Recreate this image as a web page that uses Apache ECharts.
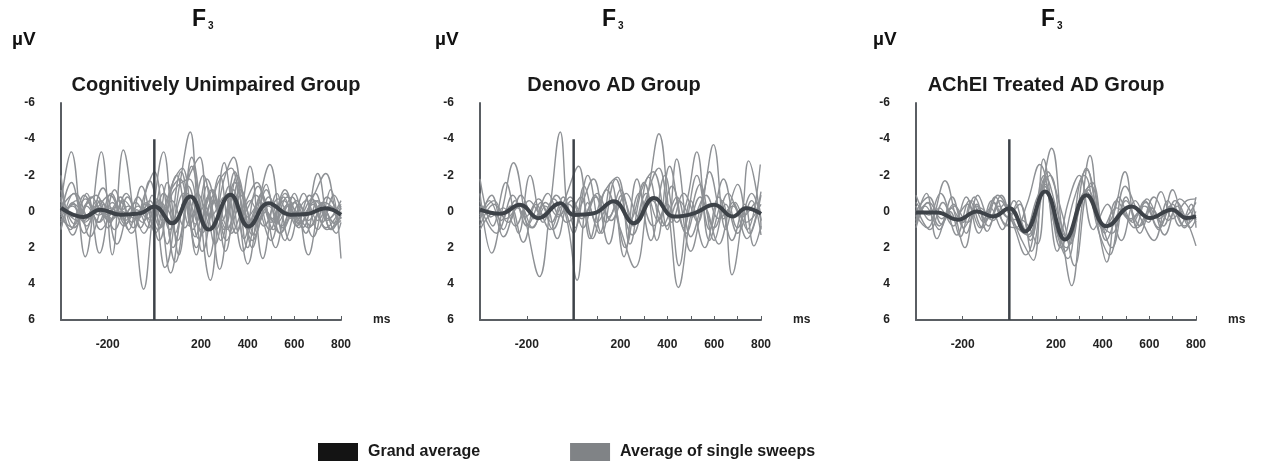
<!DOCTYPE html>
<html>
<head>
<meta charset="utf-8">
<script src="https://cdn.jsdelivr.net/npm/echarts@6/dist/echarts.min.js"></script>
<style>
  html, body { margin: 0; padding: 0; background: #fff; }
  #main { width: 1272px; height: 468px; }
</style>
</head>
<body>
<div id="main"></div>
<script>
// panel titles
var groupNames = ['Cognitively Unimpaired Group', 'Denovo AD Group', 'AChEI Treated AD Group'];
var xTickLabels = [-200, 200, 400, 600, 800];
var xTickMarks = [-200, 0, 100, 200, 300, 400, 500, 600, 700, 800];
var stimulusLine = [[0, -4], [0, 6]];

// grand averages, [ms, µV] (negative up)
var grandCU = [[-400,-0.2],[-303,0.3],[-231,-0.1],[-146,0.18],[-60,0.1],[0,-0.28],[76,0.65],[154,-0.83],[233,1.0],[326,-0.92],[404,0.83],[490,-0.46],[583,0.18],[654,0.14],[733,-0.18],[800,0.18]];
var grandDN = [[-400,-0.1],[-314,0.13],[-229,-0.37],[-150,0.37],[-57,-0.46],[0,0.19],[86,0.1],[171,-0.56],[257,0.65],[343,-0.74],[429,0.28],[514,0.1],[600,-0.37],[679,0.28],[736,-0.18],[800,0.13]];
var grandAT = [[-400,0.05],[-311,0.05],[-219,0.45],[-140,0.0],[-69,0.27],[0,-0.18],[67,1.1],[153,-1.1],[239,1.55],[331,-0.9],[417,0.82],[524,-0.27],[603,0.36],[696,-0.1],[760,0.36],[800,0.27]];

// single sweep averages, Cognitively Unimpaired
var sweepsCU = [
  [[-400,-0.5],[-356,-3.3],[-296,2.5],[-227,-3.3],[-180,2.4],[-133,-3.4],[-85,0.6],[-46,4.3],[-5,0.0],[40,-3.3],[90,1.2],[140,-1.0],[190,1.5],[250,-0.6],[310,1.0],[370,-1.2],[430,1.3],[490,-0.8],[550,0.9],[610,-0.6],[670,0.8],[730,-0.5],[800,0.4]],
  [[-400,-2.0],[-350,0.9],[-290,-1.0],[-235,2.3],[-170,-1.2],[-110,1.0],[-55,-1.4],[5,1.2],[55,-1.6],[105,2.4],[160,-3.0],[240,3.8],[300,-2.7],[355,1.0],[410,-2.5],[465,2.6],[525,-1.0],[580,1.6],[640,-1.0],[700,1.0],[755,-1.2],[800,2.6]],
  [[-400,1.0],[-345,-1.0],[-290,0.8],[-230,-0.6],[-170,1.0],[-115,-0.8],[-60,0.9],[-10,-0.9],[45,3.1],[110,-1.6],[154,-4.4],[200,0.5],[250,-1.2],[305,2.2],[360,-1.6],[420,2.0],[480,-1.5],[530,0.6],[590,-0.8],[650,1.2],[700,-0.6],[760,1.0],[800,0.0]],
  [[-400,0.0],[-360,1.0],[-300,-0.9],[-240,0.6],[-185,-1.0],[-125,0.7],[-70,-0.8],[-15,0.8],[30,-1.5],[80,2.0],[140,-1.6],[195,-3.0],[235,2.5],[295,-1.6],[340,-3.0],[400,2.0],[460,-1.0],[510,1.0],[570,-0.8],[630,0.6],[690,-1.0],[740,0.5],[800,-0.6]],
  [[-400,-1.2],[-340,0.7],[-285,-0.5],[-230,1.0],[-160,-0.3],[-100,1.2],[-40,-1.0],[0,-2.2],[55,1.8],[115,-2.2],[175,1.4],[225,-1.4],[280,3.2],[340,-1.2],[400,2.9],[450,-0.6],[495,-2.6],[560,1.6],[620,-0.4],[680,1.4],[740,-0.8],[800,0.4]],
  [[-400,0.6],[-335,-0.6],[-275,1.4],[-215,-0.4],[-160,1.8],[-100,-0.2],[-45,1.2],[10,-0.7],[70,3.4],[130,-0.6],[180,2.0],[245,-1.2],[300,1.0],[355,-2.0],[420,1.3],[480,-1.2],[540,1.2],[600,-1.0],[660,2.4],[720,-0.5],[780,1.2],[800,0.6]],
  [[-400,-0.8],[-350,1.3],[-300,-0.2],[-250,-0.9],[-190,0.6],[-130,-0.6],[-70,0.4],[-20,-1.7],[35,0.5],[85,-1.2],[150,-1.8],[205,2.2],[270,-1.5],[330,-2.4],[385,1.5],[445,-1.4],[505,0.4],[560,-1.0],[620,0.7],[680,-0.8],[735,-2.1],[790,0.5],[800,0.3]],
  [[-400,0.3],[-345,-0.4],[-290,0.2],[-250,-0.3],[-195,0.5],[-140,0.0],[-80,0.4],[-25,-0.4],[25,0.9],[75,-0.6],[130,0.9],[185,-1.0],[240,0.3],[300,-0.8],[350,1.2],[410,-0.6],[470,0.8],[530,-0.7],[590,0.4],[650,-0.6],[700,0.5],[750,-0.3],[800,0.2]],
  [[-400,0.2],[-355,-1.6],[-300,0.5],[-245,-0.6],[-200,0.9],[-145,-0.8],[-90,0.9],[-35,-0.5],[20,1.6],[70,-1.3],[120,-2.4],[180,2.4],[230,-0.8],[285,1.6],[345,-2.2],[400,1.0],[460,-0.9],[520,2.0],[575,-0.3],[635,0.9],[700,-2.1],[755,1.0],[800,-0.3]],
  [[-400,-0.4],[-330,0.5],[-270,-0.8],[-210,0.3],[-150,-0.6],[-95,0.6],[-40,-0.4],[15,1.0],[60,-0.9],[110,-1.8],[165,1.0],[215,-0.3],[260,1.8],[320,-1.0],[375,0.2],[435,-0.9],[495,1.0],[555,-0.6],[615,0.4],[675,-0.7],[735,0.9],[800,-0.2]],
  [[-400,0.9],[-350,-0.5],[-300,1.2],[-240,-0.2],[-180,0.4],[-120,-1.0],[-65,0.3],[-20,-0.6],[30,0.8],[95,-2.0],[150,0.8],[210,-2.0],[265,1.0],[320,-1.4],[380,2.2],[440,-0.2],[500,1.6],[555,-0.8],[610,0.8],[665,-0.9],[720,0.6],[770,-0.9],[800,-0.1]],
  [[-400,-0.2],[-340,-1.0],[-280,0.4],[-220,-1.3],[-165,0.2],[-110,-0.3],[-50,0.6],[-5,-0.3],[50,-0.2],[100,1.6],[160,-2.5],[220,1.0],[280,-2.0],[330,1.2],[390,-0.5],[440,-1.6],[500,0.6],[560,-1.2],[620,0.9],[680,-0.4],[740,1.0],[800,0.5]],
  [[-400,0.4],[-345,0.9],[-290,-0.3],[-235,0.6],[-180,-0.5],[-125,0.5],[-70,-0.3],[-15,0.5],[40,-1.0],[95,0.5],[145,-1.4],[205,1.2],[265,-0.6],[315,0.9],[370,-0.9],[430,0.7],[490,-0.3],[545,0.8],[600,-0.5],[660,0.5],[715,-0.4],[770,0.6],[800,0.3]],
  [[-400,-0.6],[-350,0.3],[-295,-0.7],[-240,0.2],[-185,-0.2],[-130,0.8],[-75,-0.1],[-25,0.9],[30,-0.5],[90,2.8],[150,-0.5],[200,1.0],[255,-0.9],[310,1.6],[365,-0.2],[420,1.6],[480,0.0],[540,1.2],[600,0.1],[660,0.9],[720,-0.2],[775,0.7],[800,0.2]],
  [[-400,0.1],[-350,-0.3],[-300,0.6],[-245,-0.2],[-190,-0.9],[-135,0.3],[-80,-0.5],[-30,0.4],[20,-0.6],[65,1.0],[125,-1.0],[175,0.7],[225,-1.8],[290,0.5],[345,-1.6],[400,0.3],[455,-0.5],[515,0.6],[575,-0.4],[630,0.2],[690,-0.6],[745,0.4],[800,-0.4]]
];

// single sweep averages, Denovo AD
var sweepsDN = [
  [[-400,-1.0],[-350,2.3],[-300,-0.4],[-257,-2.7],[-200,0.8],[-146,3.6],[-100,-0.3],[-57,-4.4],[-15,0.2],[30,-0.8],[80,1.5],[140,-1.2],[200,1.0],[261,3.1],[320,-1.2],[364,-4.3],[410,0.5],[447,4.2],[500,0.2],[540,-1.5],[600,1.6],[650,-0.4],[700,1.2],[760,-0.6],[800,1.3]],
  [[-400,-1.8],[-345,0.8],[-290,-1.6],[-235,1.2],[-186,-2.0],[-130,0.6],[-75,-0.9],[-30,0.4],[15,3.8],[60,-0.5],[110,1.2],[160,-1.6],[215,2.5],[270,-1.8],[330,1.6],[390,-2.0],[440,0.6],[480,-0.4],[526,-3.3],[580,1.6],[635,-0.6],[676,3.5],[720,0.2],[747,-2.8],[800,0.5]],
  [[-400,0.5],[-350,-0.9],[-300,1.0],[-250,-0.6],[-200,0.8],[-140,-0.5],[-90,1.0],[-40,-0.6],[21,-2.5],[70,1.5],[120,-0.8],[186,-1.9],[240,1.8],[290,-1.2],[340,-2.2],[400,1.0],[440,-2.9],[500,1.4],[555,-1.0],[597,-3.7],[650,1.0],[690,-0.5],[740,1.0],[797,-2.6]],
  [[-400,0.8],[-340,-0.4],[-280,0.6],[-225,-0.9],[-170,0.4],[-110,-1.0],[-60,0.2],[-10,-0.6],[40,0.9],[95,-0.8],[150,0.3],[200,-1.2],[255,0.8],[310,-1.0],[360,0.5],[420,-1.4],[480,1.2],[540,-0.8],[600,0.9],[660,-1.0],[720,0.3],[780,-0.5],[800,1.0]],
  [[-400,-0.3],[-330,1.2],[-270,-0.3],[-215,1.7],[-160,-0.4],[-100,1.0],[-50,-0.3],[0,1.2],[45,-1.4],[100,0.6],[160,-0.6],[220,2.0],[280,-1.0],[340,0.8],[400,-0.4],[450,3.0],[500,-0.6],[560,2.0],[620,-0.8],[676,1.6],[730,-0.4],[770,1.9],[800,0.8]],
  [[-400,0.2],[-360,-0.6],[-310,0.5],[-260,-0.9],[-205,0.3],[-150,-0.7],[-95,0.6],[-45,-0.8],[5,0.9],[60,-2.0],[120,1.2],[180,-1.8],[240,0.5],[300,-1.6],[355,1.6],[410,-2.5],[470,0.9],[526,-2.0],[580,1.0],[640,-1.8],[700,0.9],[760,-1.0],[800,0.5]],
  [[-400,1.0],[-345,0.1],[-300,1.4],[-240,-0.2],[-180,0.9],[-120,-0.3],[-70,1.5],[-20,-0.4],[35,0.4],[90,-0.9],[150,1.8],[205,-0.9],[261,0.7],[320,-1.9],[380,0.8],[440,-0.8],[500,2.2],[560,-0.2],[620,1.8],[680,-0.5],[740,1.5],[800,-0.9]],
  [[-400,-0.6],[-355,0.3],[-300,-0.2],[-250,0.8],[-190,-0.6],[-135,0.2],[-85,-0.7],[-30,0.6],[25,-0.2],[85,-1.8],[140,0.6],[190,-0.4],[250,1.3],[300,-0.4],[364,-2.4],[420,0.6],[470,-1.0],[530,0.6],[580,-2.2],[640,0.4],[700,-1.5],[750,1.2],[800,-1.1]],
  [[-400,0.3],[-340,-0.6],[-290,0.4],[-230,-0.3],[-175,0.9],[-120,-0.5],[-65,0.3],[-15,-0.8],[40,0.2],[100,-1.0],[160,0.5],[225,-1.0],[280,0.3],[335,-0.6],[395,0.8],[450,-0.6],[505,0.3],[565,-0.9],[620,0.4],[680,-0.3],[735,0.6],[800,-0.4]]
];

// single sweep averages, AChEI treated AD
var sweepsAT = [
  [[-400,-0.9],[-340,0.5],[-276,-1.7],[-230,0.3],[-190,2.0],[-140,-0.3],[-90,0.8],[-40,-0.6],[10,0.5],[70,2.4],[130,-0.6],[181,-3.5],[230,1.6],[267,4.1],[310,-0.2],[346,-3.1],[400,1.0],[445,0.2],[496,-2.2],[550,0.9],[610,-0.2],[660,0.8],[710,-0.6],[760,0.5],[800,1.9]],
  [[-400,0.5],[-355,-1.0],[-310,1.5],[-250,-0.2],[-200,0.6],[-150,-0.8],[-100,0.5],[-50,-0.9],[0,0.0],[50,1.5],[103,2.7],[146,-2.9],[200,1.0],[250,2.6],[300,-1.5],[330,-2.3],[390,1.5],[417,2.8],[470,-0.8],[530,0.6],[580,-0.6],[640,0.9],[700,-0.4],[750,0.8],[800,0.2]],
  [[-400,0.0],[-345,-0.8],[-290,0.7],[-240,-0.4],[-185,1.2],[-135,-0.9],[-85,0.4],[-35,-0.9],[15,0.6],[80,1.3],[150,-2.0],[215,0.4],[260,1.8],[330,-2.4],[390,0.6],[440,1.2],[500,-0.6],[560,0.8],[620,-0.8],[680,0.5],[730,-0.7],[800,0.6]],
  [[-400,0.7],[-360,-0.3],[-300,1.0],[-245,-0.8],[-195,0.9],[-140,-0.4],[-95,1.1],[-45,-0.3],[0,0.4],[60,0.5],[120,1.8],[165,-2.2],[230,0.3],[280,3.0],[340,-1.2],[380,0.0],[440,2.0],[500,-0.8],[560,1.2],[610,-0.2],[665,1.3],[720,-0.3],[775,0.9],[800,0.4]],
  [[-400,-0.3],[-340,1.0],[-285,-0.5],[-225,1.3],[-170,-0.6],[-115,0.9],[-65,-0.5],[-15,0.8],[40,-0.6],[90,1.6],[150,-1.8],[205,2.2],[250,-0.4],[300,-2.0],[360,1.0],[420,-0.4],[480,1.6],[540,-0.6],[595,0.6],[650,-1.1],[700,0.4],[760,-0.6],[800,-0.7]],
  [[-400,0.9],[-350,-0.5],[-300,0.8],[-255,0.0],[-210,1.4],[-160,-0.6],[-110,0.6],[-60,-0.8],[-10,0.3],[45,-0.4],[95,2.2],[155,-1.5],[220,2.0],[275,-0.6],[320,-2.0],[380,1.0],[430,2.4],[496,-1.4],[560,0.3],[620,1.6],[680,-0.6],[730,0.8],[780,-0.4],[800,0.9]],
  [[-400,-0.5],[-345,0.2],[-295,-1.0],[-235,0.4],[-180,-0.4],[-125,0.9],[-75,-0.6],[-25,0.6],[25,0.9],[75,-0.4],[130,-2.6],[195,0.8],[245,2.0],[300,-0.3],[355,-1.6],[415,1.6],[480,0.0],[535,0.9],[590,-0.7],[650,0.6],[700,-1.2],[750,0.3],[800,-0.5]],
  [[-400,0.2],[-350,0.9],[-300,-0.2],[-240,0.8],[-185,-0.8],[-130,1.2],[-80,-0.2],[-30,1.0],[20,-0.6],[70,1.0],[120,-0.8],[175,-2.0],[240,2.2],[300,-0.6],[350,-1.4],[410,1.2],[460,-0.6],[520,0.4],[580,-0.3],[640,1.0],[690,-0.3],[750,0.9],[800,-0.8]],
  [[-400,0.3],[-345,-0.5],[-290,0.4],[-235,-0.3],[-180,0.6],[-125,-0.2],[-70,0.5],[-20,-0.4],[35,0.3],[85,1.4],[150,-1.4],[215,0.9],[255,1.5],[330,-1.1],[400,0.9],[460,-0.2],[520,0.5],[585,-0.5],[640,0.4],[700,-0.2],[760,0.5],[800,0.0]]
];

var chart = echarts.init(document.getElementById('main'));

var font = '"Liberation Sans", Arial, sans-serif';
var sweepColor = '#8e9195';
var darkColor = '#3d4248';

// grid layout for the three panels
var panels = [
  { left: 61, width: 280, fCenter: 200, uvLeft: 12, titleCenter: 216 },
  { left: 480, width: 281, fCenter: 610, uvLeft: 435, titleCenter: 614 },
  { left: 916, width: 280, fCenter: 1049, uvLeft: 873, titleCenter: 1046 }
];
var allSweeps = [sweepsCU, sweepsDN, sweepsAT];
var allGrand = [grandCU, grandDN, grandAT];

var grids = [], xAxes = [], yAxes = [], series = [], graphics = [];

panels.forEach(function (p, i) {
  grids.push({ left: p.left, width: p.width, top: 103, height: 217 });
  xAxes.push({
    type: 'value', gridIndex: i, min: -400, max: 800, interval: 100,
    name: 'ms', nameLocation: 'end', nameGap: 32,
    nameTextStyle: { fontFamily: font, fontWeight: 'bold', fontSize: 12, color: '#222', padding: [50, 0, 0, 0] },
    axisLine: { onZero: false, lineStyle: { color: '#5a5e63', width: 2 } },
    axisTick: { show: true, inside: true, length: 4, customValues: xTickMarks, lineStyle: { color: '#5a5e63' } },
    axisLabel: {
      customValues: xTickLabels, margin: 19,
      fontFamily: font, fontWeight: 'bold', fontSize: 12, color: '#222',
      formatter: function (v) { return xTickLabels.indexOf(v) >= 0 ? String(v) : ''; }
    },
    splitLine: { show: false }
  });
  yAxes.push({
    type: 'value', gridIndex: i, inverse: true, min: -6, max: 6, interval: 2,
    axisLine: { show: true, onZero: false, lineStyle: { color: '#5a5e63', width: 2 } },
    axisTick: { show: false },
    axisLabel: { margin: 26, fontFamily: font, fontWeight: 'bold', fontSize: 12, color: '#222' },
    splitLine: { show: false }
  });

  allSweeps[i].forEach(function (s) {
    series.push({
      name: 'Average of single sweeps', type: 'line', xAxisIndex: i, yAxisIndex: i,
      data: s, smooth: 0.42, symbol: 'none', silent: true, z: 2,
      lineStyle: { color: sweepColor, width: 1.4 }, itemStyle: { color: sweepColor }
    });
  });
  series.push({
    name: 'stimulus', type: 'line', xAxisIndex: i, yAxisIndex: i,
    data: stimulusLine, symbol: 'none', silent: true, z: 3,
    lineStyle: { color: darkColor, width: 2.5 }
  });
  series.push({
    name: 'Grand average', type: 'line', xAxisIndex: i, yAxisIndex: i,
    data: allGrand[i], smooth: 0.45, symbol: 'none', silent: true, z: 4,
    lineStyle: { color: darkColor, width: 4 }, itemStyle: { color: darkColor }
  });

  graphics.push({
    type: 'text', left: p.fCenter - 8, top: 8,
    style: {
      text: '{f|F}{s|3}', fill: '#111',
      rich: {
        f: { fontFamily: font, fontSize: 23, fontWeight: 'bold', fill: '#111' },
        s: { fontFamily: font, fontSize: 10, fontWeight: 'bold', fill: '#111', padding: [14, 0, 0, 2] }
      }
    }
  });
  graphics.push({
    type: 'text', left: p.uvLeft, top: 30,
    style: { text: 'µV', fontFamily: font, fontSize: 19, fontWeight: 'bold', fill: '#111' }
  });
  graphics.push({
    type: 'text', x: p.titleCenter, y: 85,
    style: { text: groupNames[i], fontFamily: font, fontSize: 20, fontWeight: 'bold', fill: '#1a1a1a', align: 'center', verticalAlign: 'middle' }
  });
});

var option = {
  backgroundColor: '#fff',
  animation: false,
  grid: grids,
  xAxis: xAxes,
  yAxis: yAxes,
  legend: {
    left: 313, top: 438, icon: 'rect', itemWidth: 40, itemHeight: 18, itemGap: 90,
    textStyle: { fontFamily: font, fontWeight: 'bold', fontSize: 16, color: '#1a1a1a', padding: [0, 0, 0, 5] },
    data: [
      { name: 'Grand average', itemStyle: { color: '#141414', borderWidth: 0 } },
      { name: 'Average of single sweeps', itemStyle: { color: '#808386', borderWidth: 0 } }
    ]
  },
  graphic: graphics,
  series: series
};
chart.setOption(option);
</script>
</body>
</html>
